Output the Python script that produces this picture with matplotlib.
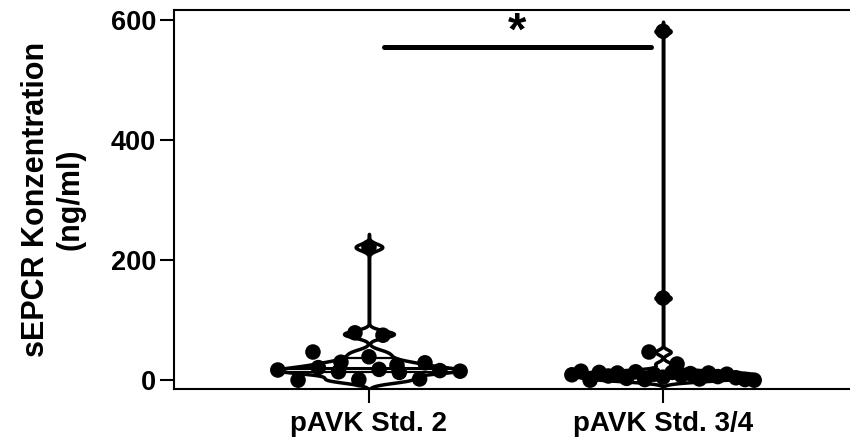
import numpy as np
import matplotlib
matplotlib.use('Agg')
import matplotlib.pyplot as plt

# ---------------- data ----------------
categories = ['pAVK Std. 2', 'pAVK Std. 3/4']
group1 = [222, 79, 75, 47, 30, 39, 25, 29, 17, 0, 21, 14, 1, 18, 13, 2, 16, 15]
group2 = [582, 137, 47, 27, 9, 15, 0, 13, 7, 12, 3, 14, 1, 10, 5, 13, 8, 11,
          2, 12, 6, 10, 4, 1, 0]
yticks = [0, 200, 400, 600]
ylabel = 'sEPCR Konzentration\n(ng/ml)'
sig_label = '*'
sig_y = 556
sig_span = (0.05, 0.96)

plt.rcParams['font.family'] = ['Liberation Sans', 'DejaVu Sans']
plt.rcParams['font.weight'] = 'bold'

fig = plt.figure(figsize=(8.5, 4.44), dpi=100)
ax = fig.add_axes([174 / 850, 55 / 444, (858 - 174) / 850, 379 / 444])

XMIN, XMAX = -0.663, 1.663
YMIN, YMAX = -14.7, 617.5
HALF_W = 0.31           # max violin half width (category units)
BWS = [5.5, 4.0]        # kde bandwidth per group (data units)
PX_PER_X = 294.0
BIN = 25.0              # row height for point spreading (data units)
STEP = 28 / PX_PER_X    # spacing between points in a row


def kde(vals, grid, h):
    v = np.asarray(vals, float)[:, None]
    return np.exp(-0.5 * ((grid[None, :] - v) / h) ** 2).sum(0) / (len(vals) * h * np.sqrt(2 * np.pi))


def row_offsets(vals):
    vals = np.asarray(vals, float)
    bins = np.floor(vals / BIN).astype(int)
    off = np.zeros(len(vals))
    for b in np.unique(bins):
        idx = np.where(bins == b)[0]
        n = len(idx)
        if n == 1:
            continue
        W = min(HALF_W, (n - 1) * STEP / 2)
        off[idx] = np.linspace(-W, W, n)
    return off


for i, vals in enumerate([group1, group2]):
    vals = np.asarray(vals, float)
    bw = BWS[i]
    grid = np.linspace(vals.min() - 4 * bw, vals.max() + 4 * bw, 3000)
    d = kde(vals, grid, bw)
    w = HALF_W * d / d.max()
    ax.fill_betweenx(grid, i - w, i + w, facecolor='white', edgecolor='black',
                     linewidth=2.5, zorder=2)
    # median and quartiles
    for q, lw in zip(np.percentile(vals, [25, 50, 75]), [1.6, 2.2, 1.6]):
        wq = np.interp(q, grid, w)
        ax.plot([i - wq, i + wq], [q, q], color='black', lw=lw, zorder=2)
    xs = i + row_offsets(vals)
    ax.scatter(xs, vals, s=125, color='black', edgecolors='none', zorder=3,
               clip_on=False)

# significance bar
ax.plot(sig_span, [sig_y, sig_y], color='black', lw=3.6, solid_capstyle='round', zorder=4)
ax.text(np.mean(sig_span), sig_y + 4, sig_label, ha='center', va='baseline',
        fontsize=34, fontweight='bold', zorder=4)

ax.set_xlim(XMIN, XMAX)
ax.set_ylim(YMIN, YMAX)
ax.set_xticks(range(len(categories)))
ax.set_xticklabels(categories, fontsize=20, fontweight='bold')
ax.set_yticks(yticks)
ax.set_yticklabels([str(t) for t in yticks], fontsize=19.5, fontweight='bold')
ax.tick_params(axis='both', direction='out', length=10, width=1.5, colors='black')
ax.tick_params(axis='x', pad=6)
ax.tick_params(axis='y', pad=3)
ax.set_ylabel(ylabel, fontsize=22, fontweight='bold', labelpad=18)
for side in ['left', 'bottom', 'top']:
    ax.spines[side].set_linewidth(1.5)
ax.spines['right'].set_visible(False)

fig.savefig('out.png', dpi=100)
